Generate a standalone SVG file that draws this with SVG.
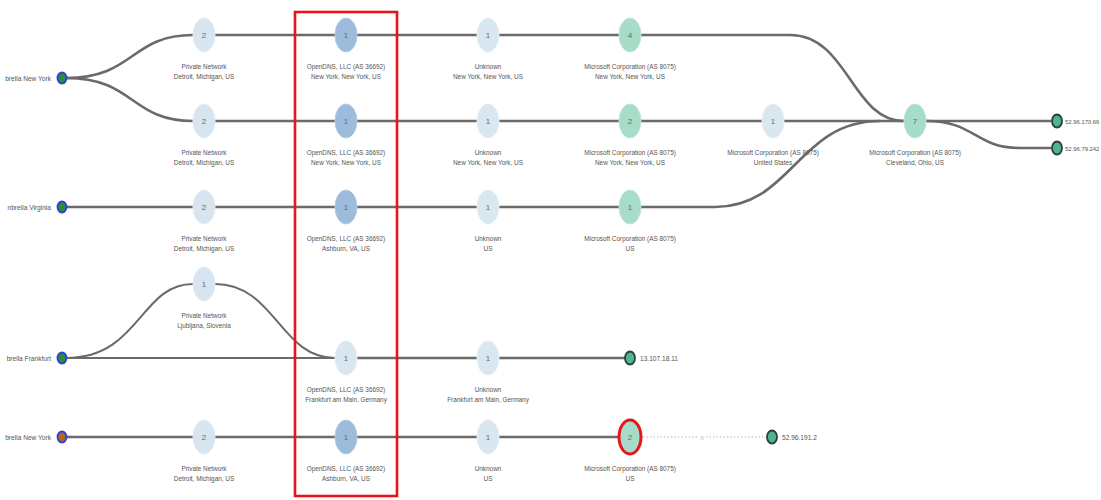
<svg xmlns="http://www.w3.org/2000/svg" width="1101" height="500" viewBox="0 0 1101 500">
<style>
.e{fill:none;stroke:#6a6a6a;stroke-width:2.6}
.e2{fill:none;stroke:#6a6a6a;stroke-width:2}
.d{fill:none;stroke:#b8b8b8;stroke-width:1.2;stroke-dasharray:1.5 2}
.pn{fill:#d6e5f0;stroke:#e4eef6;stroke-width:1}
.od{fill:#9dbcdc;stroke:#b3cbe4;stroke-width:1}
.un{fill:#d9e7f1;stroke:#e6eff7;stroke-width:1}
.ms{fill:#a6dcc8;stroke:#bde6d7;stroke-width:1}
.ep{fill:#4db496;stroke:#2f3f3a;stroke-width:1.8}
.st{stroke:#2a3fe0;stroke-width:1.8}
.n{font-family:"Liberation Sans",Arial,sans-serif;font-size:8px;fill:#6a6a6a;text-anchor:middle}
.l{font-family:"Liberation Sans",Arial,sans-serif;font-size:6.4px;fill:#555;text-anchor:middle}
.s{font-family:"Liberation Sans",Arial,sans-serif;font-size:6.6px;fill:#555}
</style>
<rect width="1101" height="500" fill="#fff"/>
<g id="connectors">
<path class="e" d="M66,78 C135,78 130,35 193,35"/>
<path class="e" d="M66,78 C135,78 130,121 193,121"/>
<path class="e" d="M215,35 H619"/>
<path class="e" d="M641,35 H790 C848,35 852,121 904,121"/>
<path class="e" d="M215,121 H904"/>
<path class="e" d="M66,207 H715 C792,207 798,121 880,121"/>
<path class="e" d="M926,121 H1051"/>
<path class="e" d="M926,121 C975,121 975,148 1020,148 H1051"/>
<path class="e2" d="M66,358 C140,358 140,284 193,284"/>
<path class="e2" d="M215,284 C275,284 280,358 335,358"/>
<path class="e2" d="M66,358 H335"/>
<path class="e" d="M357,358 H625"/>
<path class="e" d="M66,437 H619"/>
<path class="d" d="M643,437 H698"/>
<path class="d" d="M706,437 H766"/>
<text x="702" y="439.5" style="font-family:'Liberation Sans',Arial,sans-serif;font-size:7px;fill:#c4c4c4;text-anchor:middle">x</text>
</g>
<g id="src1"><ellipse class="st" cx="62" cy="78" rx="4.5" ry="5.5" fill="#2f8f2f"/><text class="s" x="51" y="80.5" text-anchor="end">brella New York</text></g>
<g id="src2"><ellipse class="st" cx="62" cy="207" rx="4.5" ry="5.5" fill="#2f8f2f"/><text class="s" x="51" y="209.5" text-anchor="end">nbrella Virginia</text></g>
<g id="src3"><ellipse class="st" cx="62" cy="358" rx="4.5" ry="5.5" fill="#2f8f2f"/><text class="s" x="51" y="360.5" text-anchor="end">brella Frankfurt</text></g>
<g id="src4"><ellipse class="st" cx="62" cy="437" rx="4.5" ry="5.5" fill="#b5651d"/><text class="s" x="51" y="439.5" text-anchor="end">brella New York</text></g>

<g id="n1a"><ellipse class="pn" cx="204" cy="35" rx="11" ry="17"/><text class="n" x="204" y="38">2</text><text class="l" x="204" y="69">Private Network</text><text class="l" x="204" y="79">Detroit, Michigan, US</text></g>
<g id="n1b"><ellipse class="od" cx="346" cy="35" rx="11" ry="17"/><text class="n" x="346" y="38">1</text><text class="l" x="346" y="69">OpenDNS, LLC (AS 36692)</text><text class="l" x="346" y="79">New York, New York, US</text></g>
<g id="n1c"><ellipse class="un" cx="488" cy="35" rx="11" ry="17"/><text class="n" x="488" y="38">1</text><text class="l" x="488" y="69">Unknown</text><text class="l" x="488" y="79">New York, New York, US</text></g>
<g id="n1d"><ellipse class="ms" cx="630" cy="35" rx="11" ry="17"/><text class="n" x="630" y="38">4</text><text class="l" x="630" y="69">Microsoft Corporation (AS 8075)</text><text class="l" x="630" y="79">New York, New York, US</text></g>

<g id="n2a"><ellipse class="pn" cx="204" cy="121" rx="11" ry="17"/><text class="n" x="204" y="124">2</text><text class="l" x="204" y="155">Private Network</text><text class="l" x="204" y="165">Detroit, Michigan, US</text></g>
<g id="n2b"><ellipse class="od" cx="346" cy="121" rx="11" ry="17"/><text class="n" x="346" y="124">1</text><text class="l" x="346" y="155">OpenDNS, LLC (AS 36692)</text><text class="l" x="346" y="165">New York, New York, US</text></g>
<g id="n2c"><ellipse class="un" cx="488" cy="121" rx="11" ry="17"/><text class="n" x="488" y="124">1</text><text class="l" x="488" y="155">Unknown</text><text class="l" x="488" y="165">New York, New York, US</text></g>
<g id="n2d"><ellipse class="ms" cx="630" cy="121" rx="11" ry="17"/><text class="n" x="630" y="124">2</text><text class="l" x="630" y="155">Microsoft Corporation (AS 8075)</text><text class="l" x="630" y="165">New York, New York, US</text></g>
<g id="n2e"><ellipse class="un" cx="773" cy="121" rx="11" ry="17"/><text class="n" x="773" y="124">1</text><text class="l" x="773" y="155">Microsoft Corporation (AS 8075)</text><text class="l" x="773" y="165">United States</text></g>
<g id="n2f"><ellipse class="ms" cx="915" cy="121" rx="11" ry="17"/><text class="n" x="915" y="124">7</text><text class="l" x="915" y="155">Microsoft Corporation (AS 8075)</text><text class="l" x="915" y="165">Cleveland, Ohio, US</text></g>
<g id="ep1"><ellipse class="ep" cx="1057" cy="121" rx="5" ry="6.5"/><text class="s" x="1065" y="123.5" style="font-size:5.9px">52.96.170.66</text></g>
<g id="ep2"><ellipse class="ep" cx="1057" cy="148" rx="5" ry="6.5"/><text class="s" x="1065" y="150.5" style="font-size:5.9px">52.96.79.242</text></g>

<g id="n3a"><ellipse class="pn" cx="204" cy="207" rx="11" ry="17"/><text class="n" x="204" y="210">2</text><text class="l" x="204" y="241">Private Network</text><text class="l" x="204" y="251">Detroit, Michigan, US</text></g>
<g id="n3b"><ellipse class="od" cx="346" cy="207" rx="11" ry="17"/><text class="n" x="346" y="210">1</text><text class="l" x="346" y="241">OpenDNS, LLC (AS 36692)</text><text class="l" x="346" y="251">Ashburn, VA, US</text></g>
<g id="n3c"><ellipse class="un" cx="488" cy="207" rx="11" ry="17"/><text class="n" x="488" y="210">1</text><text class="l" x="488" y="241">Unknown</text><text class="l" x="488" y="251">US</text></g>
<g id="n3d"><ellipse class="ms" cx="630" cy="207" rx="11" ry="17"/><text class="n" x="630" y="210">1</text><text class="l" x="630" y="241">Microsoft Corporation (AS 8075)</text><text class="l" x="630" y="251">US</text></g>

<g id="n4a"><ellipse class="pn" cx="204" cy="284" rx="11" ry="17"/><text class="n" x="204" y="287">1</text><text class="l" x="204" y="318">Private Network</text><text class="l" x="204" y="328">Ljubljana, Slovenia</text></g>

<g id="n5b"><ellipse class="un" cx="346" cy="358" rx="11" ry="17"/><text class="n" x="346" y="361">1</text><text class="l" x="346" y="392">OpenDNS, LLC (AS 36692)</text><text class="l" x="346" y="402">Frankfurt am Main, Germany</text></g>
<g id="n5c"><ellipse class="un" cx="488" cy="358" rx="11" ry="17"/><text class="n" x="488" y="361">1</text><text class="l" x="488" y="392">Unknown</text><text class="l" x="488" y="402">Frankfurt am Main, Germany</text></g>
<g id="ep3"><ellipse class="ep" cx="630" cy="358" rx="5" ry="6.5"/><text class="s" x="640" y="360.5">13.107.18.11</text></g>

<g id="n6a"><ellipse class="pn" cx="204" cy="437" rx="11" ry="17"/><text class="n" x="204" y="440">2</text><text class="l" x="204" y="471">Private Network</text><text class="l" x="204" y="481">Detroit, Michigan, US</text></g>
<g id="n6b"><ellipse class="od" cx="346" cy="437" rx="11" ry="17"/><text class="n" x="346" y="440">1</text><text class="l" x="346" y="471">OpenDNS, LLC (AS 36692)</text><text class="l" x="346" y="481">Ashburn, VA, US</text></g>
<g id="n6c"><ellipse class="un" cx="488" cy="437" rx="11" ry="17"/><text class="n" x="488" y="440">1</text><text class="l" x="488" y="471">Unknown</text><text class="l" x="488" y="481">US</text></g>
<g id="n6d"><ellipse cx="630" cy="437" rx="11" ry="17" fill="#a6dcc8" stroke="#e4161e" stroke-width="3"/><text class="n" x="630" y="440">2</text><text class="l" x="630" y="471">Microsoft Corporation (AS 8075)</text><text class="l" x="630" y="481">US</text></g>
<g id="ep4"><ellipse class="ep" cx="772" cy="437" rx="5" ry="6.5"/><text class="s" x="782" y="439.5">52.96.191.2</text></g>

<rect x="295" y="12" width="102" height="484" fill="none" stroke="#e8141c" stroke-width="2.6"/>
</svg>
